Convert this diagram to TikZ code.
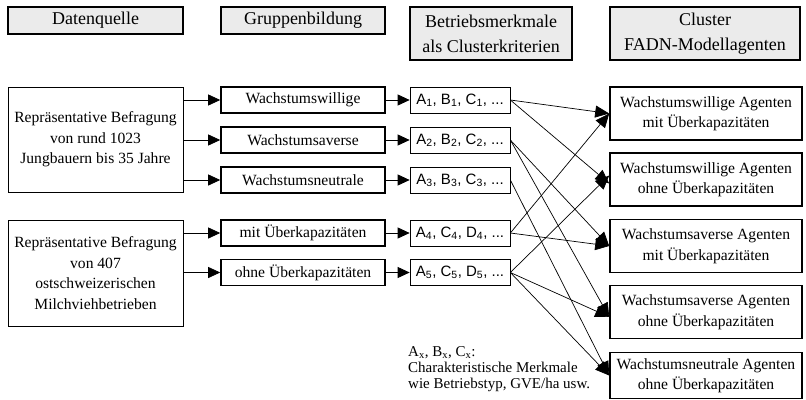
\documentclass[tikz,border=0pt]{standalone}
\usepackage{fontspec}
\setmainfont{Liberation Serif}
\newfontfamily\critfont{Liberation Sans}
\usetikzlibrary{arrows.meta, positioning}

\begin{document}
\begin{tikzpicture}[
    x=1pt, y=-1pt,
    every node/.style={font=\fontsize{15.6}{20.5}\selectfont, inner sep=2pt},
    header/.style={draw, line width=1.4pt, fill=black!8, align=center, font=\fontsize{18}{25}\selectfont},
    source/.style={draw, line width=0.7pt, minimum width=175pt, align=center},
    group/.style={draw, line width=1.6pt, minimum width=164pt, minimum height=26pt},
    crit/.style={draw, line width=0.7pt, minimum width=100pt, minimum height=26pt, font=\critfont\fontsize{15}{17}\selectfont},
    cluster/.style={draw, line width=1.6pt, minimum width=192pt, minimum height=53pt, align=center},
    arr/.style={-{Triangle[length=12pt, width=11pt]}, line width=0.8pt},
    xarr/.style={-{Triangle[length=14pt, width=12pt]}, line width=0.7pt}
  ]
  \useasboundingbox (0,0) rectangle (806,399);

  % --- Header row ---
  \node[header, minimum width=175pt, minimum height=27pt] (hquelle) at (95.5,20.5) {Datenquelle};
  \node[header, minimum width=164pt, minimum height=27pt] (hgruppe) at (303,20.5) {Gruppenbildung};
  \node[header, minimum width=162pt, minimum height=53pt] (hmerkmal) at (491,33.5) {Betriebsmerkmale\\als Clusterkriterien};
  \node[header, minimum width=190pt, minimum height=53pt] (hcluster) at (705,33.5) {Cluster\\FADN-Modellagenten};

  % --- Data sources ---
  \node[source, minimum height=105pt] (jung) at (95.5,139.5) {Repräsentative Befragung\\von rund 1023\\Jungbauern bis 35 Jahre};
  \node[source, minimum height=106pt] (milch) at (95.5,273) {Repräsentative Befragung\\von 407\\ostschweizerischen\\Milchviehbetrieben};

  % --- Groups ---
  \node[group] (willig) at (303,100) {Wachstumswillige};
  \node[group] (avers) at (303,140) {Wachstumsaverse};
  \node[group] (neutral) at (303,180) {Wachstumsneutrale};
  \node[group] (mitkap) at (303,233) {mit Überkapazitäten};
  \node[group] (ohnekap) at (303,272.5) {ohne Überkapazitäten};

  % --- Cluster criteria ---
  \node[crit] (krit1) at (460,100) {A\textsubscript{1}, B\textsubscript{1}, C\textsubscript{1}, ...};
  \node[crit] (krit2) at (460,140) {A\textsubscript{2}, B\textsubscript{2}, C\textsubscript{2}, ...};
  \node[crit] (krit3) at (460,180) {A\textsubscript{3}, B\textsubscript{3}, C\textsubscript{3}, ...};
  \node[crit] (krit4) at (460,233) {A\textsubscript{4}, C\textsubscript{4}, D\textsubscript{4}, ...};
  \node[crit] (krit5) at (460,272.5) {A\textsubscript{5}, C\textsubscript{5}, D\textsubscript{5}, ...};

  % --- Agent clusters ---
  \node[cluster] (agwm) at (706,113.5) {Wachstumswillige Agenten\\mit Überkapazitäten};
  \node[cluster] (agwo) at (706,179.5) {Wachstumswillige Agenten\\ohne Überkapazitäten};
  \node[cluster] (agam) at (706,246) {Wachstumsaverse Agenten\\mit Überkapazitäten};
  \node[cluster] (agao) at (706,312) {Wachstumsaverse Agenten\\ohne Überkapazitäten};
  \node[cluster, minimum height=46pt] (agno) at (706,375.5) {Wachstumsneutrale Agenten\\ohne Überkapazitäten};

  % --- Arrows: sources -> groups ---
  \draw[arr] (jung.east |- willig) -- (willig);
  \draw[arr] (jung.east |- avers) -- (avers);
  \draw[arr] (jung.east |- neutral) -- (neutral);
  \draw[arr] (milch.east |- mitkap) -- (mitkap);
  \draw[arr] (milch.east |- ohnekap) -- (ohnekap);

  % --- Arrows: groups -> criteria ---
  \draw[arr] (willig) -- (krit1);
  \draw[arr] (avers) -- (krit2);
  \draw[arr] (neutral) -- (krit3);
  \draw[arr] (mitkap) -- (krit4);
  \draw[arr] (ohnekap) -- (krit5);

  % --- Arrows: criteria -> clusters ---
  \draw[xarr] (krit1.east) -- (agwm.west);
  \draw[xarr] (krit1.east) -- ([yshift=-4pt]agwo.west);
  \draw[xarr] (krit2.east) -- (agam.west);
  \draw[xarr] (krit2.east) -- ([yshift=-5pt]agao.west);
  \draw[xarr] (krit3.east) -- (agno.west);
  \draw[xarr] (krit4.east) -- (agwm.west);
  \draw[xarr] (krit4.east) -- (agam.west);
  \draw[xarr] (krit5.east) -- ([yshift=4pt]agwo.west);
  \draw[xarr] (krit5.east) -- ([yshift=-5pt]agao.west);
  \draw[xarr] (krit5.east) -- (agno.west);

  % --- Legend ---
  \node[anchor=north west, align=left, font=\fontsize{15}{16}\selectfont] (legende) at (406,344)
    {A\textsubscript{x}, B\textsubscript{x}, C\textsubscript{x}:\\Charakteristische Merkmale\\wie Betriebstyp, GVE/ha usw.};

\end{tikzpicture}
\end{document}
